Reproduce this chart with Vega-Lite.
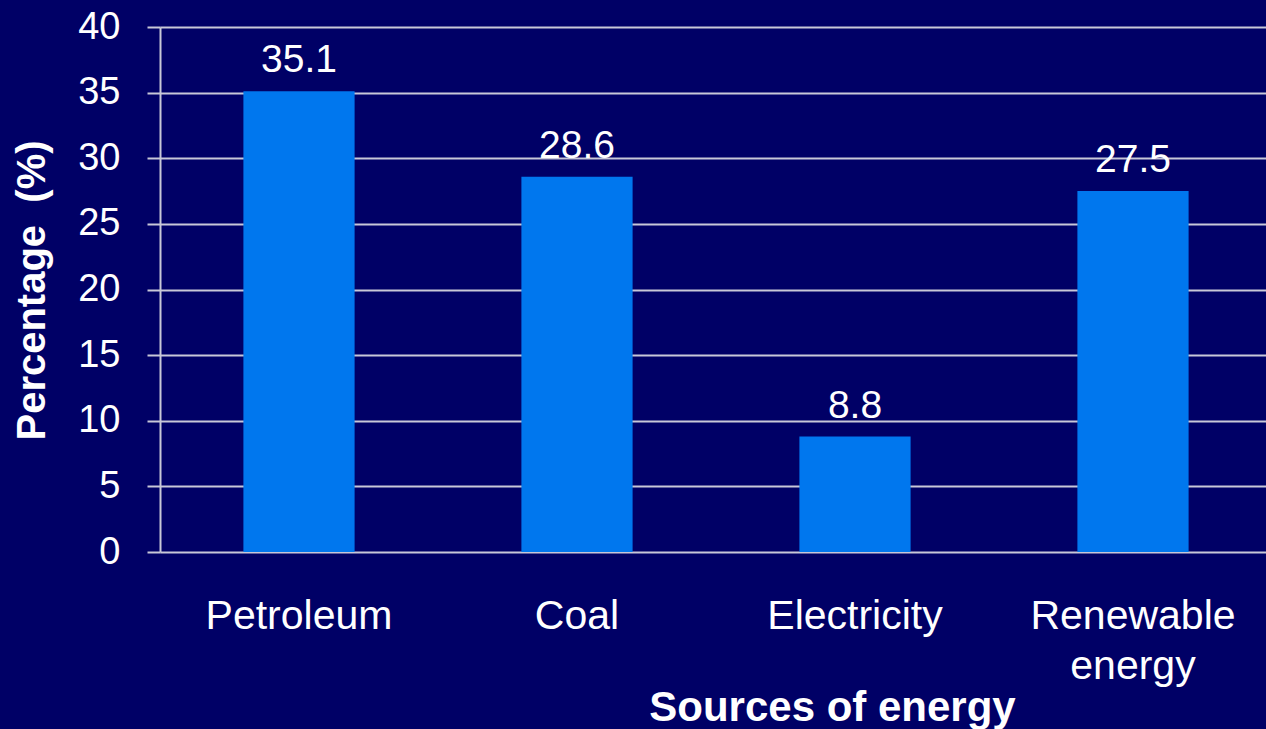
{
  "$schema": "https://vega.github.io/schema/vega-lite/v6.json",
  "autosize": {"type": "none"},
  "padding": {"left": 160, "top": 27, "right": 0, "bottom": 177},
  "width": 1112,
  "height": 525,
  "background": "#000066",
  "config": {
    "view": {"stroke": null},
    "font": "Liberation Sans"
  },
  "data": {
    "values": [
      {"source": "Petroleum", "value": 35.1},
      {"source": "Coal", "value": 28.6},
      {"source": "Electricity", "value": 8.8},
      {"source": "Renewable energy", "value": 27.5}
    ]
  },
  "encoding": {
    "x": {
      "field": "source",
      "type": "nominal",
      "sort": null,
      "scale": {"paddingInner": 0.6, "paddingOuter": 0.3},
      "axis": {
        "title": "Sources of energy",
        "labelAngle": 0,
        "labelFont": "Liberation Sans",
        "labelFontSize": 41,
        "labelColor": "#FFFFFF",
        "labelBaseline": "top",
        "labelPadding": 44,
        "labelLineHeight": 50,
        "labelLimit": 0,
        "labelExpr": "datum.label == 'Renewable energy' ? ['Renewable', 'energy'] : datum.label",
        "ticks": false,
        "domain": false,
        "grid": false,
        "titleFont": "Liberation Sans",
        "titleFontSize": 42,
        "titleFontWeight": "bold",
        "titleColor": "#FFFFFF",
        "titleX": 672,
        "titleY": 168,
        "titleAlign": "center",
        "titleBaseline": "alphabetic"
      }
    },
    "y": {
      "field": "value",
      "type": "quantitative",
      "scale": {"domain": [0, 40]},
      "axis": {
        "title": "Percentage\u00a0 (%)",
        "values": [0, 5, 10, 15, 20, 25, 30, 35, 40],
        "labelFont": "Liberation Sans",
        "labelFontSize": 38,
        "labelColor": "#FFFFFF",
        "labelPadding": 27,
        "tickSize": 13,
        "tickColor": "#C8C8D8",
        "tickWidth": 2,
        "domainColor": "#C8C8D8",
        "domainWidth": 2,
        "grid": true,
        "gridColor": "#C8C8D8",
        "gridWidth": 2,
        "titleFont": "Liberation Sans",
        "titleFontSize": 40,
        "titleFontWeight": "bold",
        "titleColor": "#FFFFFF",
        "titleAngle": -90,
        "titleX": -128,
        "titleY": 263,
        "titleAlign": "center",
        "titleBaseline": "middle"
      }
    }
  },
  "layer": [
    {"mark": {"type": "bar", "color": "#0077EE"}},
    {
      "mark": {"type": "text", "color": "#FFFFFF", "fontSize": 39, "font": "Liberation Sans", "baseline": "alphabetic", "dy": -19},
      "encoding": {"text": {"field": "value", "type": "quantitative", "format": ".1f"}}
    }
  ]
}
